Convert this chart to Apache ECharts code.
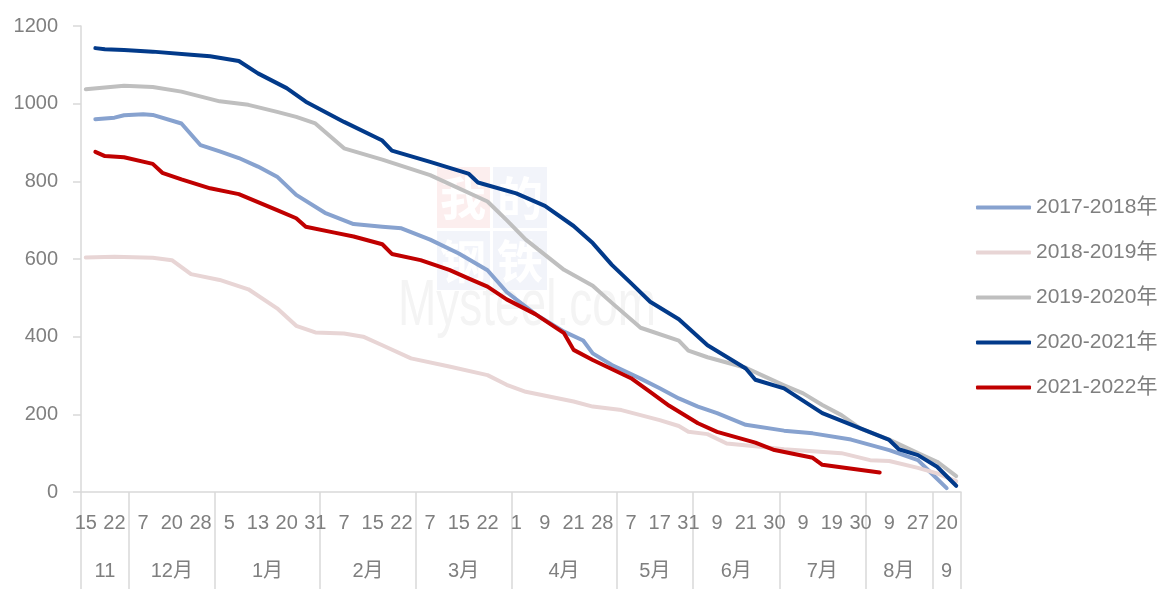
<!DOCTYPE html>
<html><head><meta charset="utf-8">
<script src="https://cdn.jsdelivr.net/npm/echarts@6/dist/echarts.min.js"></script>
<style>html,body{margin:0;padding:0;background:#fff}#c{width:1165px;height:589px}</style>
</head><body><div id="c"></div>
<script>
// ---- data ----
const categoryCount = 92;           // number of category slots on the x axis
const labelStep = 3;                // a day label every 3rd category
const dayLabels = ['15','22','7','20','28','5','13','20','31','7','15','22','7','15','22','1','9','21','28','7','17','31','9','21','30','9','19','30','9','27','20'];
const monthLabels = ['11','12月','1月','2月','3月','4月','5月','6月','7月','8月','9'];
const monthStarts = [0,5,14,25,35,45,56,64,73,82,89]; // first category index of each month
const seriesNames = ['2017-2018年','2018-2019年','2019-2020年','2020-2021年','2021-2022年'];
const seriesColors = ['#87A2CF','#E8D5D5','#BFBFBF','#023A8A','#C00000'];
const yMin = 0, yMax = 1200, yStep = 200;

// [category index, value]
const s2017 = [[1,960],[3,964],[4,970],[6,973],[7,971],[10,949],[12,893],[14,877],[16,860],[18,838],[20,812],[22,765],[25,719],[28,690],[31,683],[33,679],[36,650],[39,614],[42,571],[44,515],[47,458],[50,413],[52,390],[53,357],[55,327],[58,292],[60,267],[62,241],[64,220],[66,203],[69,173],[73,158],[76,151],[80,135],[84,108],[87,82],[88,58],[90,10]];
const s2018 = [[0,604],[3,606],[7,603],[9,597],[11,561],[14,546],[17,522],[20,473],[22,428],[24,411],[27,408],[29,400],[31,378],[34,344],[38,323],[42,301],[44,276],[46,258],[51,233],[53,220],[56,211],[60,185],[62,170],[63,155],[65,149],[67,125],[70,118],[73,110],[79,100],[82,82],[84,80],[87,62],[89,48],[91,28]];
const s2019 = [[0,1037],[4,1046],[7,1043],[10,1031],[14,1006],[17,997],[20,979],[22,966],[24,949],[27,885],[31,856],[36,816],[42,748],[44,700],[46,650],[50,572],[53,531],[55,487],[58,423],[62,390],[63,364],[65,347],[69,320],[71,297],[73,275],[75,254],[77,224],[79,198],[81,163],[84,135],[87,100],[89,78],[91,41]];
const s2020 = [[1,1143],[2,1140],[4,1138],[7,1134],[11,1126],[13,1122],[16,1110],[18,1078],[21,1040],[23,1005],[27,953],[31,905],[32,879],[36,850],[40,820],[41,797],[45,769],[48,737],[51,685],[53,641],[55,585],[57,538],[59,490],[62,445],[65,378],[69,318],[70,289],[73,267],[77,203],[84,134],[85,110],[87,95],[89,65],[91,16]];
const s2021 = [[1,876],[2,865],[4,862],[7,845],[8,822],[10,805],[13,782],[16,767],[20,726],[22,705],[23,683],[26,668],[28,658],[31,638],[32,613],[35,597],[38,572],[40,550],[42,529],[44,496],[47,458],[50,409],[51,366],[53,340],[57,293],[59,258],[61,222],[64,177],[66,155],[70,127],[72,108],[76,88],[77,70],[83,50]];
const seriesData = [s2017, s2018, s2019, s2020, s2021];

// ---- chart ----
const FONT = "'Liberation Sans','Noto Sans CJK SC',sans-serif";
const TXT = '#7F7F7F';
const AX = '#D9D9D9';
const categories = Array.from({length: categoryCount}, (_, i) => String(i));
const monthBounds = monthStarts.concat([categoryCount]);
const monthCenters = monthStarts.map((s, i) => (s + monthBounds[i + 1]) / 2);

const chart = echarts.init(document.getElementById('c'), null, {renderer: 'canvas'});
chart.setOption({
  animation: false,
  backgroundColor: '#fff',
  grid: {left: 81, right: 204, top: 26, bottom: 97, containLabel: false},
  graphic: [{
    type: 'group', z: -10, silent: true,
    children: [
      {type: 'rect', shape: {x: 437, y: 167, width: 53, height: 61}, style: {fill: '#FCEEEE'}},
      {type: 'rect', shape: {x: 493, y: 167, width: 54, height: 61}, style: {fill: '#F2F4FA'}},
      {type: 'rect', shape: {x: 437, y: 231, width: 53, height: 59}, style: {fill: '#F2F4FA'}},
      {type: 'rect', shape: {x: 493, y: 231, width: 54, height: 59}, style: {fill: '#F2F4FA'}},
      {type: 'text', x: 463, y: 198, style: {text: '我', fill: '#fff', font: 'bold 46px "Noto Sans CJK SC"', align: 'center', verticalAlign: 'middle'}},
      {type: 'text', x: 520, y: 198, style: {text: '的', fill: '#fff', font: 'bold 46px "Noto Sans CJK SC"', align: 'center', verticalAlign: 'middle'}},
      {type: 'text', x: 463, y: 261, style: {text: '钢', fill: '#fff', font: 'bold 46px "Noto Sans CJK SC"', align: 'center', verticalAlign: 'middle'}},
      {type: 'text', x: 520, y: 261, style: {text: '铁', fill: '#fff', font: 'bold 46px "Noto Sans CJK SC"', align: 'center', verticalAlign: 'middle'}},
      {type: 'text', x: 527, y: 307, scaleY: 1.4, style: {text: 'Mysteel.com', fill: '#F4F4F4', font: '46px "Liberation Sans"', align: 'center', verticalAlign: 'middle'}}
    ]
  }],
  legend: {
    orient: 'vertical', left: 976, top: 197, padding: 0,
    icon: 'roundRect',
    itemWidth: 55, itemHeight: 4, itemGap: 24,
    textStyle: {color: TXT, fontSize: 21, fontFamily: FONT},
    data: seriesNames
  },
  xAxis: [{
    type: 'category', data: categories, boundaryGap: true,
    axisLine: {show: true, lineStyle: {color: AX, width: 1.5}},
    axisTick: {show: false},
    splitLine: {show: false},
    axisLabel: {
      interval: (i) => i % labelStep === 0,
      formatter: (v, i) => (i % labelStep === 0 ? dayLabels[i / labelStep] : ''),
      color: TXT, fontSize: 20, fontFamily: FONT, margin: 21
    }
  }, {
    type: 'value', min: 0, max: categoryCount, position: 'bottom',
    axisLine: {show: false},
    splitLine: {show: false},
    axisTick: {show: true, customValues: monthBounds, length: 97, lineStyle: {color: AX, width: 1.5}},
    axisLabel: {
      show: true, customValues: monthCenters,
      formatter: (v) => { const k = monthCenters.indexOf(v); return k >= 0 ? monthLabels[k] : ''; },
      color: TXT, fontSize: 20, fontFamily: FONT, margin: 69
    }
  }],
  yAxis: {
    type: 'value', min: yMin, max: yMax, interval: yStep,
    axisLine: {show: true, lineStyle: {color: AX, width: 1.5}},
    axisTick: {show: true, length: 8, lineStyle: {color: AX, width: 1.5}},
    splitLine: {show: false},
    axisLabel: {color: TXT, fontSize: 20, fontFamily: FONT, margin: 23, formatter: (v) => String(v)}
  },
  series: seriesNames.map((name, k) => ({
    name, type: 'line', xAxisIndex: 0, data: seriesData[k],
    symbol: 'none', smooth: false, connectNulls: true,
    color: seriesColors[k],
    lineStyle: {color: seriesColors[k], width: 4, cap: 'round', join: 'round'},
    emphasis: {disabled: true}
  }))
});
</script></body></html>
